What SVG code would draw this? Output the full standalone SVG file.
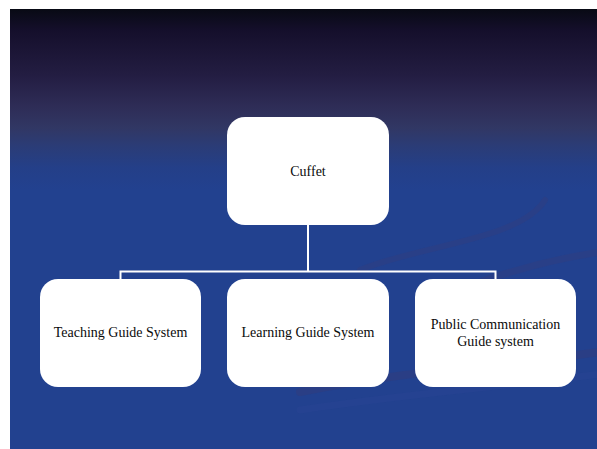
<svg xmlns="http://www.w3.org/2000/svg" width="597" height="449" viewBox="0 0 597 449">
  <defs>
    <linearGradient id="sky" x1="0" y1="0" x2="0" y2="1" gradientUnits="objectBoundingBox">
      <stop offset="0" stop-color="#080a14"/>
      <stop offset="0.05" stop-color="#150f2c"/>
      <stop offset="0.15" stop-color="#231d42"/>
      <stop offset="0.22" stop-color="#2e2c56"/>
      <stop offset="0.27" stop-color="#313764"/>
      <stop offset="0.31" stop-color="#2b3c76"/>
      <stop offset="0.36" stop-color="#243f88"/>
      <stop offset="0.41" stop-color="#22418f"/>
      <stop offset="1" stop-color="#22418f"/>
    </linearGradient>
  </defs>
  <style>
    .box { fill: #ffffff; }
    .label { font-family: "Liberation Serif", "Times New Roman", serif; font-size: 14px; fill: #0a0a0a; text-anchor: middle; }
    .link { fill: none; stroke: #ffffff; stroke-width: 2; }
    .swoosh { fill: none; stroke-linecap: round; }
  </style>

  <!-- slide background -->
  <rect x="10" y="9" width="587" height="440" fill="url(#sky)"/>

  <!-- faint decorative bands -->
  <g id="bands">
    <path class="swoosh" d="M360 270 C 420 245, 520 240, 545 200" stroke="#3a3c78" stroke-opacity="0.3" stroke-width="6"/>
    <path class="swoosh" d="M480 282 C 520 268, 560 258, 600 252" stroke="#3a3c78" stroke-opacity="0.3" stroke-width="7"/>
    <path class="swoosh" d="M300 392 C 400 372, 500 365, 600 352" stroke="#3a3a72" stroke-opacity="0.35" stroke-width="8"/>
    <path class="swoosh" d="M300 410 C 420 392, 520 385, 600 374" stroke="#2a4694" stroke-opacity="0.35" stroke-width="7"/>
    <path class="swoosh" d="M380 362 C 330 350, 300 345, 270 330" stroke="#3a3c78" stroke-opacity="0.25" stroke-width="4"/>
  </g>

  <!-- connectors -->
  <g id="connectors">
    <path class="link" d="M308 225 V271.5"/>
    <path class="link" d="M120.5 279 V271.5 H495.5 V279"/>
  </g>

  <g id="node-cuffet">
    <rect class="box" x="227" y="117" width="162" height="108" rx="18"/>
    <text class="label" x="308" y="176">Cuffet</text>
  </g>

  <g id="node-teaching">
    <rect class="box" x="40" y="279" width="161" height="108" rx="18"/>
    <text class="label" x="120.5" y="337">Teaching Guide System</text>
  </g>

  <g id="node-learning">
    <rect class="box" x="227" y="279" width="162" height="108" rx="18"/>
    <text class="label" x="308" y="337">Learning Guide System</text>
  </g>

  <g id="node-public">
    <rect class="box" x="415" y="279" width="161" height="108" rx="18"/>
    <text class="label" x="495.5" y="329">Public Communication</text>
    <text class="label" x="495.5" y="346">Guide system</text>
  </g>
</svg>
